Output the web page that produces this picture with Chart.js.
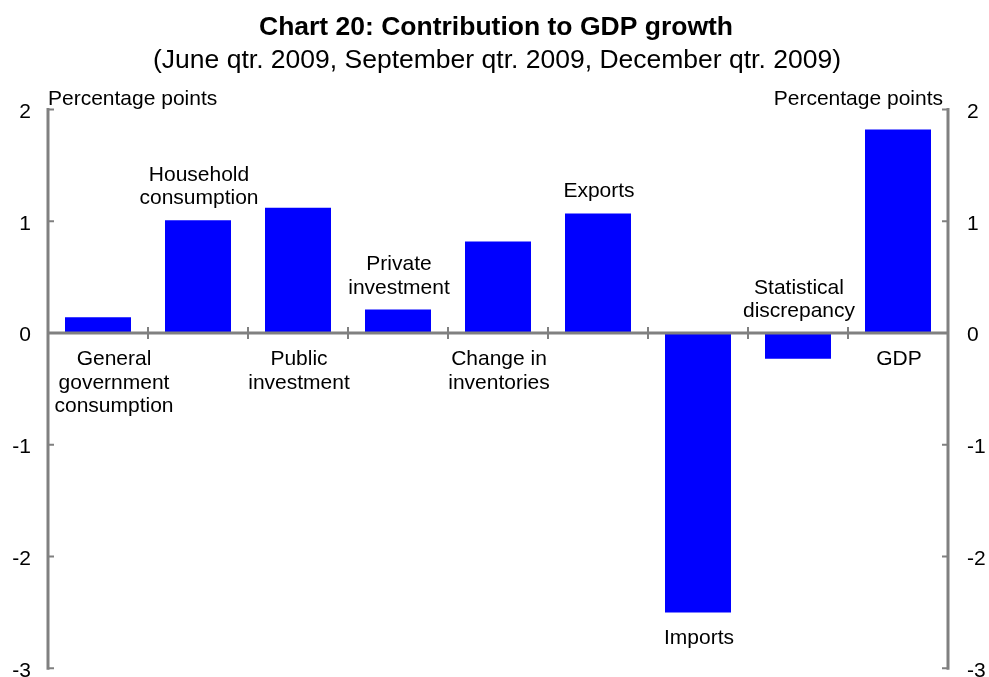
<!DOCTYPE html>
<html><head><meta charset="utf-8">
<script src="https://cdn.jsdelivr.net/npm/chart.js@4"></script>
<style>html,body{margin:0;padding:0;background:#fff}#wrap{width:989px;height:677px;position:relative}</style>
</head><body><div id="wrap"><canvas id="c" width="989" height="677"></canvas></div>
<script>
const categories = [["General","government","consumption"],["Household","consumption"],["Public","investment"],["Private","investment"],["Change in","inventories"],["Exports"],["Imports"],["Statistical","discrepancy"],["GDP"]];
const contributions = [0.14, 1.01, 1.12, 0.21, 0.82, 1.07, -2.50, -0.23, 1.82];
const labelSide = ["below","above","below","above","below","above","below","above","below"];
const yTicks = [-3, -2, -1, 0, 1, 2];
const titleText = "Chart 20: Contribution to GDP growth";
const subtitleText = "(June qtr. 2009, September qtr. 2009, December qtr. 2009)";
const unitText = "Percentage points";

const FONT = "'Liberation Sans', Arial, sans-serif";
const AXIS = '#808080';

const decor = {
  id: 'decor',
  afterDatasetsDraw(chart) {
    const ctx = chart.ctx, a = chart.chartArea;
    const x = chart.scales.x, y = chart.scales.y;
    const zero = y.getPixelForValue(0);
    ctx.save();
    ctx.strokeStyle = AXIS; ctx.lineWidth = 3; ctx.lineCap = 'butt';
    ctx.beginPath();
    ctx.moveTo(a.left, y.getPixelForValue(yTicks[yTicks.length-1]) - 1.5);
    ctx.lineTo(a.left, y.getPixelForValue(yTicks[0]) + 1.5);
    ctx.moveTo(a.right, y.getPixelForValue(yTicks[yTicks.length-1]) - 1.5);
    ctx.lineTo(a.right, y.getPixelForValue(yTicks[0]) + 1.5);
    ctx.moveTo(a.left, zero); ctx.lineTo(a.right, zero);
    ctx.stroke();
    ctx.lineWidth = 2;
    ctx.beginPath();
    yTicks.forEach(v => {
      const py = y.getPixelForValue(v);
      ctx.moveTo(a.left, py); ctx.lineTo(a.left + 6, py);
      ctx.moveTo(a.right - 6, py); ctx.lineTo(a.right, py);
    });
    for (let i = 1; i < categories.length; i++) {
      const px = (x.getPixelForValue(i - 1) + x.getPixelForValue(i)) / 2;
      ctx.moveTo(px, zero - 6); ctx.lineTo(px, zero + 6);
    }
    ctx.stroke();

    // category labels
    ctx.fillStyle = '#000';
    ctx.font = '21px ' + FONT;
    ctx.textAlign = 'center'; ctx.textBaseline = 'alphabetic';
    const LH = 23.5;
    categories.forEach((lines, i) => {
      const v = contributions[i];
      let cx = x.getPixelForValue(i) + (i === 0 ? 16 : 1);
      if (labelSide[i] === 'above') {
        const top = y.getPixelForValue(Math.max(v, 0));
        const last = top - 16;
        lines.forEach((t, k) => ctx.fillText(t, cx, last - (lines.length - 1 - k) * LH));
      } else {
        const bot = y.getPixelForValue(Math.min(v, 0));
        const first = bot + 32;
        lines.forEach((t, k) => ctx.fillText(t, cx, first + k * LH));
      }
    });

    // unit labels
    ctx.textAlign = 'left';
    ctx.fillText(unitText, a.left, 105);
    ctx.textAlign = 'right';
    ctx.fillText(unitText, a.right - 5, 105);

    // titles
    ctx.textAlign = 'center';
    ctx.font = 'bold 26.5px ' + FONT;
    ctx.fillText(titleText, 496, 35);
    ctx.font = '26.5px ' + FONT;
    ctx.fillText(subtitleText, 497, 68);
    ctx.restore();
  }
};

new Chart(document.getElementById('c'), {
  type: 'bar',
  data: {
    labels: categories.map(l => l.join(' ')),
    datasets: [{
      data: contributions,
      backgroundColor: '#0000FF',
      borderWidth: 0,
      barPercentage: 0.66,
      categoryPercentage: 1.0,
      yAxisID: 'y'
    }]
  },
  options: {
    responsive: false,
    animation: false,
    devicePixelRatio: 1,
    layout: { padding: { top: 109.5, bottom: 8.7, left: 0, right: 0 } },
    plugins: { legend: { display: false }, tooltip: { enabled: false }, title: { display: false } },
    scales: {
      x: { display: false, offset: true },
      y: {
        position: 'left', min: yTicks[0], max: yTicks[yTicks.length-1],
        grid: { display: false, drawTicks: false },
        border: { display: false },
        ticks: { stepSize: 1, padding: 17, labelOffset: 2.5, color: '#000', font: { family: FONT, size: 21 } },
        afterFit(s) { s.width = 48; s.paddingTop = 0; s.paddingBottom = 0; }
      },
      y2: {
        position: 'right', min: yTicks[0], max: yTicks[yTicks.length-1],
        grid: { display: false, drawTicks: false },
        border: { display: false },
        ticks: { stepSize: 1, padding: 19, labelOffset: 2.5, color: '#000', font: { family: FONT, size: 21 } },
        afterFit(s) { s.width = 41; s.paddingTop = 0; s.paddingBottom = 0; }
      }
    }
  },
  plugins: [decor]
});
</script>
</body></html>
